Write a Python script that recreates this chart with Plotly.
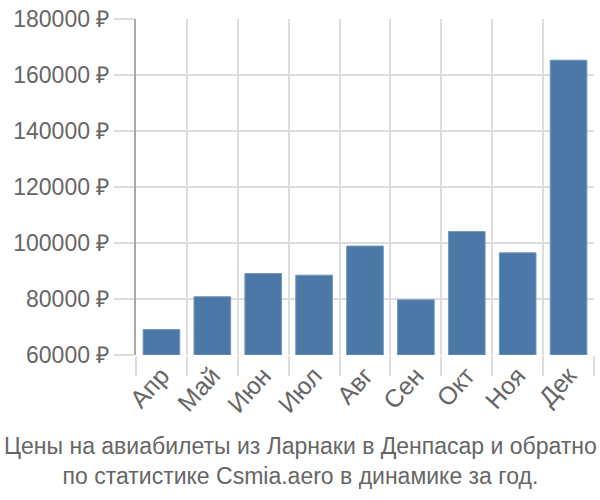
import plotly.graph_objects as go

months = ["Апр", "Май", "Июн", "Июл", "Авг", "Сен", "Окт", "Ноя", "Дек"]
prices = [69100, 80800, 89100, 88500, 98900, 79700, 104100, 96500, 165300]
y_ticks = [60000, 80000, 100000, 120000, 140000, 160000, 180000]
y_labels = [f"{v} ₽" for v in y_ticks]
title_lines = ["Цены на авиабилеты из Ларнаки в Денпасар и обратно",
               "по статистике Csmia.aero в динамике за год."]

FONT = "Liberation Sans"
GRID = "#dddddd"
TXT = "#666666"

fig = go.Figure(go.Bar(
    x=months, y=[p - 60000 for p in prices], base=60000,
    marker=dict(color="#4c78a8", line=dict(color="#7396be", width=1)),
))

fig.update_layout(
    width=600, height=500,
    margin=dict(l=136, r=6, t=14, b=145),
    paper_bgcolor="white", plot_bgcolor="white",
    bargap=0.28,
    showlegend=False,
    font=dict(family=FONT, color=TXT, size=23),
    xaxis=dict(
        type="category", tickson="boundaries", ticks="outside", ticklen=20,
        tickcolor=GRID, tickwidth=2, showgrid=True, gridcolor=GRID, gridwidth=2,
        tickangle=-48, tickfont=dict(size=25, color=TXT), showline=False,
        zeroline=False,
    ),
    yaxis=dict(
        range=[60000, 180000], tickvals=y_ticks, ticktext=y_labels,
        ticks="outside", ticklen=20, tickcolor=GRID, tickwidth=2,
        showgrid=True, gridcolor=GRID, gridwidth=2,
        showline=True, linecolor="#aaaaaa", linewidth=2,
        zeroline=False, tickfont=dict(size=23, color=TXT),
    ),
)
fig.update_layout(annotations=[dict(
    text="<br>".join(title_lines), xref="paper", yref="paper",
    x=(300 - 136) / 458, xanchor="center", y=(355 - 432) / 341, yanchor="top",
    showarrow=False, font=dict(family=FONT, size=23, color=TXT), align="center",
)])

fig.write_html("out.html")
